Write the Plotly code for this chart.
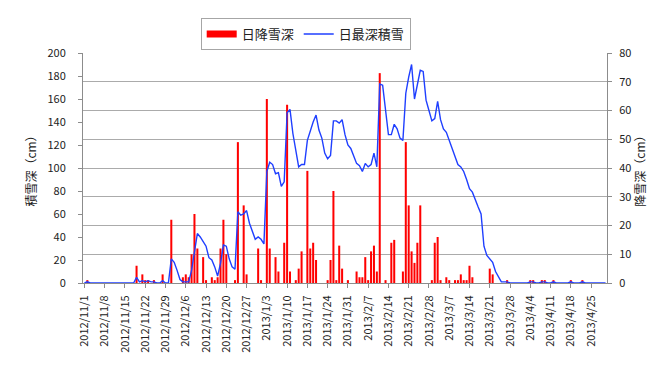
import pandas as pd
import plotly.graph_objects as go

start_date = "2012-11-01"
n_days = 181

# 日最深積雪 (cm), daily from 2012/11/1 to 2013/4/30
depth = [
    0, 1, 0, 0, 0, 0, 0, 0, 0, 0,          # 11/1-11/10
    0, 0, 0, 0, 0, 0, 0, 0, 5, 1,          # 11/11-11/20
    2, 1, 2, 1, 1, 0, 0, 2, 0, 0,          # 11/21-11/30
    21, 18, 11, 3, 1, 1, 1, 11, 29, 43,    # 12/1-12/10
    40, 36, 32, 22, 20, 14, 6, 17, 33, 32, # 12/11-12/20
    21, 14, 12, 62, 59, 60, 63, 52, 45, 38,# 12/21-12/30
    40, 38, 34, 97, 105, 103, 95, 96, 84, 88,   # 12/31-1/9
    148, 151, 130, 116, 101, 103, 103, 124, 133, 140,  # 1/10-1/19
    146, 133, 126, 113, 108, 111, 141, 141, 139, 142,  # 1/20-1/29
    129, 120, 117, 111, 104, 102, 97, 104, 101, 103,   # 1/30-2/8
    113, 101, 173, 172, 150, 129, 129, 138, 134, 126,  # 2/9-2/18
    124, 165, 179, 190, 160, 172, 185, 184, 159, 150,  # 2/19-2/28
    141, 143, 158, 142, 134, 131, 124, 118, 110, 103,  # 3/1-3/10
    101, 97, 90, 82, 79, 72, 66, 60, 32, 24,           # 3/11-3/20
    21, 18, 10, 6, 1, 1, 1, 0, 0, 0,                   # 3/21-3/30
    0, 0, 0, 0, 1, 1, 0, 0, 1, 1,                      # 3/31-4/9
    0, 0, 1, 0, 0, 0, 0, 0, 1, 0,                      # 4/10-4/19
    0, 0, 1, 0, 0, 0, 0, 0, 0, 0,                      # 4/20-4/29
    0,                                                 # 4/30
]

# 日降雪深 (cm): day index -> value (other days 0)
snowfall_days = [1, 18, 20, 21, 22, 24, 27, 30, 34, 35, 36, 37, 38, 39, 41, 42, 44, 45, 46, 47,
                 48, 49, 52, 53, 55, 56, 60, 61, 63, 64, 66, 67, 69, 70, 71, 73, 74, 75, 77, 78,
                 79, 80, 84, 85, 86, 87, 88, 89, 91, 94, 95, 96, 97, 98, 99, 100, 101, 102, 104, 106,
                 107, 110, 111, 112, 113, 114, 115, 116, 120, 121, 122, 123, 125, 126, 128, 129, 130, 131, 132, 133,
                 134, 140, 141, 146, 154, 155, 158, 159, 162, 168, 172]
snowfall_vals = [1, 6, 3, 1, 1, 1, 3, 22, 2, 3, 2, 10, 24, 12, 9, 1, 2, 1, 2, 12,
                 22, 10, 1, 49, 27, 3, 12, 1, 64, 12, 9, 4, 14, 62, 4, 1, 5, 11, 39, 12,
                 14, 8, 1, 8, 32, 1, 13, 5, 1, 4, 2, 2, 9, 1, 11, 13, 4, 73, 1, 14,
                 15, 4, 49, 27, 11, 7, 14, 27, 1, 14, 16, 1, 2, 1, 1, 1, 3, 1, 1, 6,
                 2, 5, 3, 1, 1, 1, 1, 1, 1, 1, 1]

dates = pd.date_range(start_date, periods=n_days, freq="D")
snowfall = [0] * n_days
for d, v in zip(snowfall_days, snowfall_vals):
    snowfall[d] = v

tick_dates = dates[::7]
tick_text = [f"{t.year}/{t.month}/{t.day}" for t in tick_dates]

FONT = "Noto Sans CJK JP"
GRID = "#ababab"
AX = "#8c8c8c"
RED = "#ff0000"
BLUE = "#1f3fff"

fig = go.Figure()
fig.add_trace(go.Bar(
    x=dates, y=snowfall, name="日降雪深", yaxis="y", showlegend=False,
    marker=dict(color=RED, line=dict(width=0)),
))
# legend proxy so that the bar series shows a wide red swatch like the original
fig.add_trace(go.Scatter(
    x=[None], y=[None], name="日降雪深", yaxis="y", mode="lines",
    line=dict(color=RED, width=7),
))
fig.add_trace(go.Scatter(
    x=dates, y=depth, name="日最深積雪", yaxis="y2", mode="lines",
    line=dict(color=BLUE, width=1.4),
))

fig.update_layout(
    width=657, height=370,
    margin=dict(l=75, r=58, t=45, b=95, autoexpand=False),
    paper_bgcolor="white", plot_bgcolor="white",
    font=dict(family=FONT, size=11, color="#222"),
    bargap=0.3,
    showlegend=True,
    legend=dict(
        orientation="h", x=0.425, xanchor="center",
        yref="container", y=0.973, yanchor="top",
        bordercolor="#a6a6a6", borderwidth=1, font=dict(size=13, family=FONT),
        traceorder="normal", tracegroupgap=0,
    ),
    xaxis=dict(
        type="date", automargin=False,
        range=["2012-10-31 12:00", "2013-04-30 12:00"],
        tickvals=tick_dates, ticktext=tick_text, tickangle=-90,
        ticks="outside", ticklen=4, tickcolor=AX, ticklabelstandoff=3,
        showline=True, linecolor=AX, linewidth=1,
        showgrid=False, tickfont=dict(size=11),
    ),
    yaxis=dict(
        side="right", range=[0, 80], dtick=10, automargin=False,
        showgrid=True, gridcolor=GRID, gridwidth=1,
        ticks="outside", ticklen=4, tickcolor=AX, ticklabelstandoff=5,
        showline=True, linecolor=AX, zeroline=False,
        title=dict(text="降雪深（cm）", font=dict(size=12), standoff=4),
        tickfont=dict(size=11),
    ),
    yaxis2=dict(
        side="left", overlaying="y", range=[0, 200], dtick=20, automargin=False,
        showgrid=False, ticks="outside", ticklen=4, tickcolor=AX, ticklabelstandoff=10,
        showline=True, linecolor=AX, zeroline=False,
        title=dict(text="積雪深（cm）", font=dict(size=12), standoff=8),
        tickfont=dict(size=11),
    ),
)

fig.write_html("out.html")
